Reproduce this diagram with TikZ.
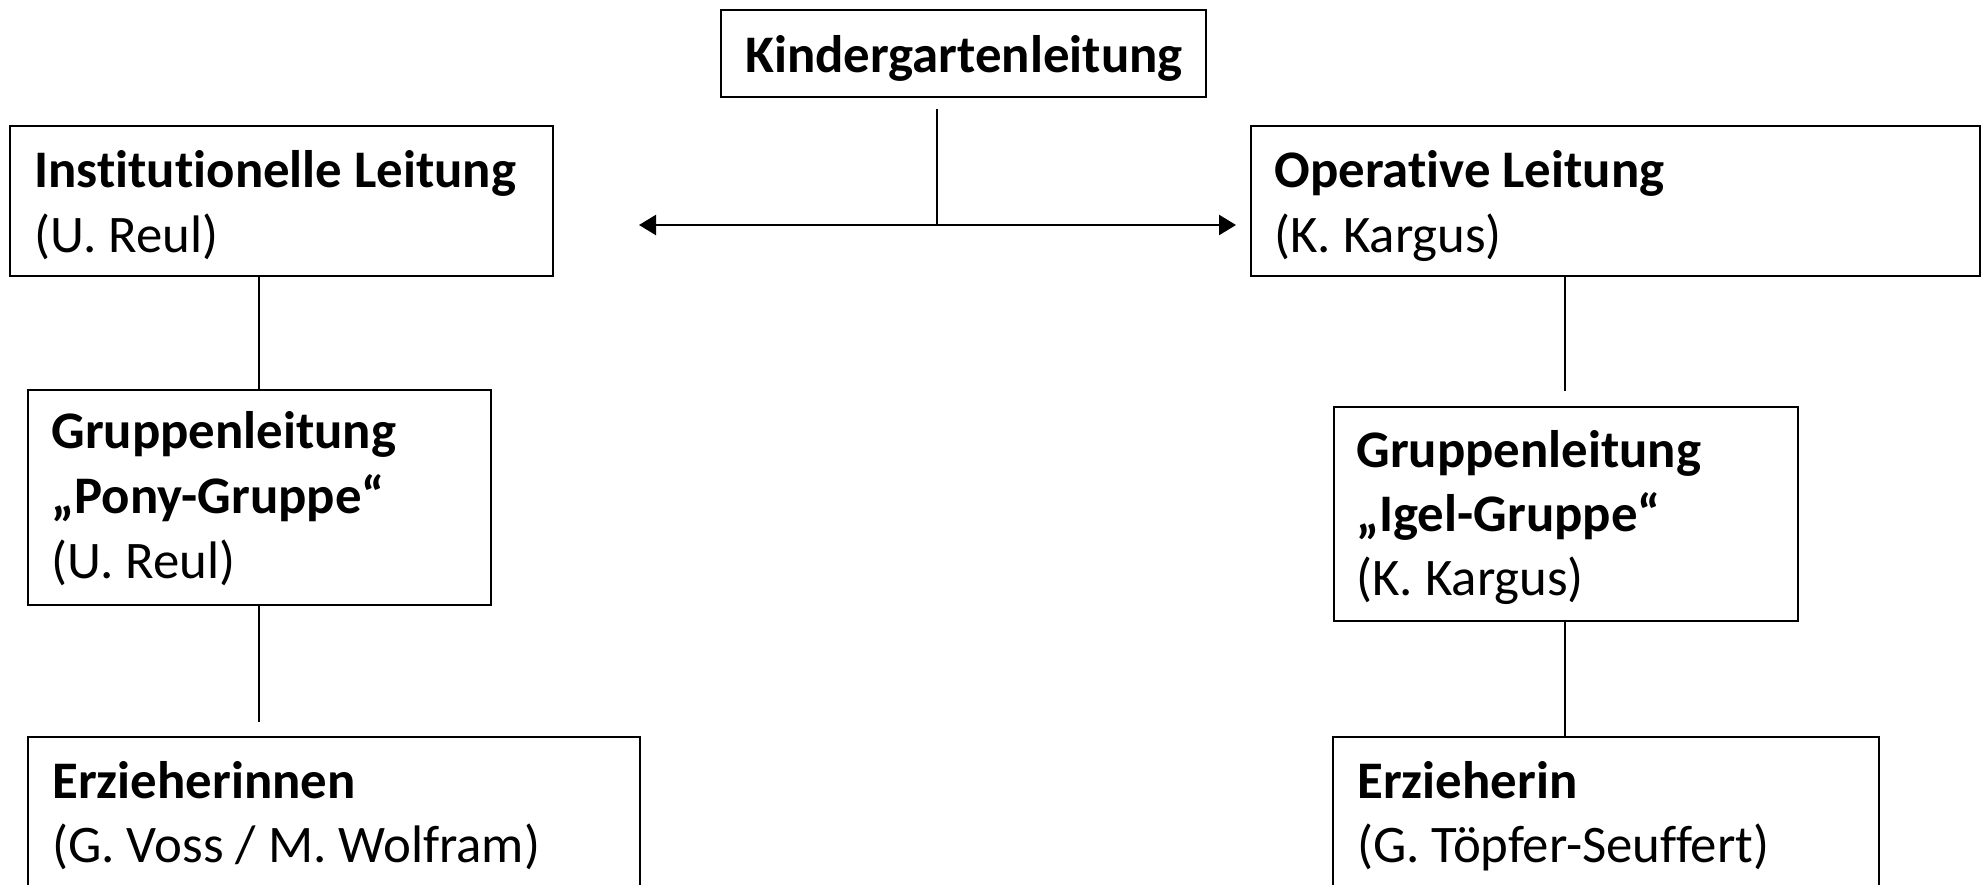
\documentclass[tikz,border=0pt]{standalone}
\usepackage{fontspec}
\setmainfont[Ligatures=NoCommon]{Carlito}
\usetikzlibrary{arrows.meta}
\begin{document}
\begin{tikzpicture}[x=0.5pt,y=-0.5pt,
  box/.style={draw=black,line width=1pt,rectangle,inner sep=0pt,fill=white},
  txt/.style={anchor=base west,inner sep=0pt,font=\fontsize{26.4pt}{33pt}\selectfont},
  hd/.style={txt,font=\fontsize{26.4pt}{33pt}\selectfont\bfseries},
  conn/.style={draw=black,line width=0.75pt},
  arr/.style={draw=black,line width=1.2pt,-{Triangle[length=8.5pt,width=10pt]}}]
\fill[white] (0,0) rectangle (1984,884);
\useasboundingbox (0,0) rectangle (1984,884);
\clip (0,0) rectangle (1984,884);
% boxes
\node[box,minimum width=242.5pt,minimum height=43.5pt] (kg) at (963.5,53.5) {};
\node[box,minimum width=271.5pt,minimum height=75pt] (inst) at (281.5,201) {};
\node[box,minimum width=364.5pt,minimum height=75pt] (op) at (1615,201) {};
\node[box,minimum width=231.5pt,minimum height=107.5pt] (pony) at (259.5,497.5) {};
\node[box,minimum width=232pt,minimum height=107pt] (igel) at (1565.5,514) {};
\node[box,minimum width=306pt,minimum height=81.5pt] (erzL) at (334,818.5) {};
\node[box,minimum width=273pt,minimum height=81.5pt] (erzR) at (1606,818.5) {};
% texts
\node[hd] (kgt) at (745,72) {Kindergartenleitung};
\node[hd] (instt) at (34,187) {Institutionelle Leitung};
\node[txt] (instn) at (34,252) {(U. Reul)};
\node[hd] (opt) at (1274,187) {Operative Leitung};
\node[txt] (opn) at (1274,252) {(K. Kargus)};
\node[hd] (ponyt) at (51,448) {Gruppenleitung};
\node[hd] (ponyg) at (51,513) {„Pony-Gruppe“};
\node[txt] (ponyn) at (51,578) {(U. Reul)};
\node[hd] (igelt) at (1356,467) {Gruppenleitung};
\node[hd] (igelg) at (1356,531) {„Igel-Gruppe“};
\node[txt] (igeln) at (1356,595) {(K. Kargus)};
\node[hd] (erzLt) at (52,798) {Erzieherinnen};
\node[txt] (erzLn) at (52,862) {(G. Voss / M. Wolfram)};
\node[hd] (erzRt) at (1357,798) {Erzieherin};
\node[txt] (erzRn) at (1357,862) {(G. Töpfer-Seuffert)};
% connectors
\coordinate (xL) at (259,0);
\coordinate (xR) at (1565,0);
\coordinate (kgl) at (937,109);
\coordinate (j) at (937,225);
\coordinate (aL) at (639,225);
\coordinate (aR) at (1236,225);
\coordinate (eL) at (259,722);
\coordinate (igTop) at (1565,391);
\draw[conn] (kgl) -- (j);
\draw[arr] (j) -- (aL);
\draw[arr] (j) -- (aR);
\draw[conn] (inst.south -| xL) -- (pony.north -| xL);
\draw[conn] (pony.south -| xL) -- (eL);
\draw[conn] (op.south -| xR) -- (igTop);
\draw[conn] (igel.south -| xR) -- (erzR.north -| xR);
\end{tikzpicture}
\end{document}
